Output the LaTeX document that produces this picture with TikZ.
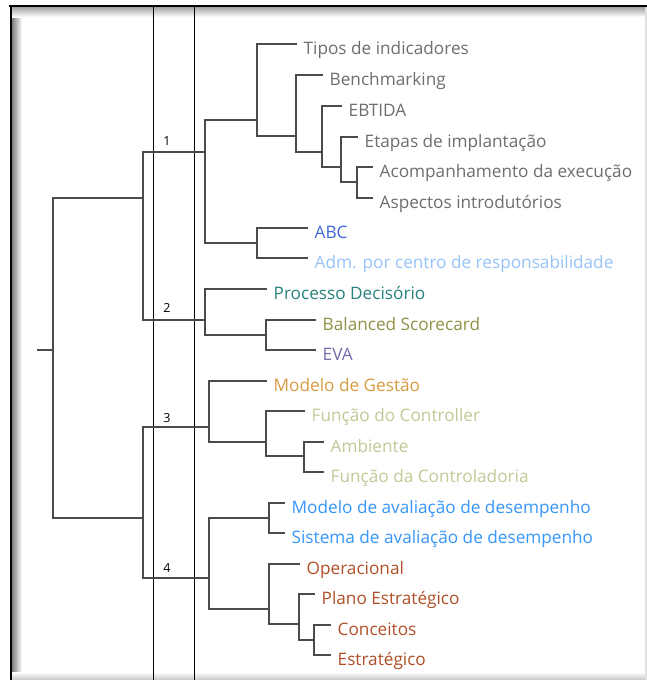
\documentclass[tikz,border=0pt]{standalone}
\usepackage{fontspec}
\setmainfont{Open Sans}
\definecolor{treegray}{RGB}{75,75,75}
\definecolor{txgray}{RGB}{110,110,110}
\definecolor{cabc}{RGB}{65,105,215}
\definecolor{cadm}{RGB}{150,195,250}
\definecolor{cproc}{RGB}{40,130,125}
\definecolor{cbal}{RGB}{145,145,70}
\definecolor{ceva}{RGB}{115,110,170}
\definecolor{cmod}{RGB}{215,155,65}
\definecolor{cpale}{RGB}{195,200,150}
\definecolor{cblue}{RGB}{55,150,250}
\definecolor{crust}{RGB}{175,80,40}
\begin{document}
\begin{tikzpicture}[x=1pt,y=-1pt,
  branch/.style={draw=treegray, line width=1.6pt, line cap=rect},
  guide/.style={draw=black, line width=0.9pt},
  leaf/.style={font=\fontsize{17.2}{19}\selectfont, inner sep=0pt, anchor=base west, xshift=7.5pt, yshift=-10.5pt},
  num/.style={font=\fontsize{12.5}{14}\selectfont, inner sep=0pt, text=black}]
\useasboundingbox (0,0) rectangle (647,680);
\fill[white] (0,0) rectangle (647,680);
% frame and shadow
\shade[left color=black!50, right color=white] (12,6) rectangle (22,680);
\shade[top color=black!40, bottom color=white] (12,6) rectangle (647,17);
\shade[top color=white, bottom color=black!22] (12,672) rectangle (647,680);
\fill[black!12] (645,6) rectangle (647,680);
\draw[black, line width=2pt] (9,6) -- (647,6);
\draw[black, line width=2pt] (11,5) -- (11,680);
% guide lines
\coordinate (g1t) at (153.5,7);
\coordinate (g1b) at (153.5,680);
\coordinate (g2t) at (194.5,7);
\coordinate (g2b) at (194.5,680);
\draw[guide] (g1t) -- (g1b);
\draw[guide] (g2t) -- (g2b);
% internal coordinates
\coordinate (rs) at (38,350);
\coordinate (r) at (53,350);
\coordinate (A) at (143,198);
\coordinate (B) at (143,518);
\coordinate (c1) at (205,152);
\coordinate (c1a) at (257,120);
\coordinate (c1a2) at (296,136);
\coordinate (c1a3) at (322,152);
\coordinate (c1a4) at (341,167);
\coordinate (c1a5) at (357,182);
\coordinate (c1b) at (257,243);
\coordinate (c2) at (205,320);
\coordinate (c2b) at (266,335);
\coordinate (c3) at (209,427);
\coordinate (c3b) at (266,442);
\coordinate (c3c) at (304,456);
\coordinate (c4) at (209,578);
\coordinate (c4a) at (269,518);
\coordinate (c4b) at (269,609);
\coordinate (c4c) at (299,624);
\coordinate (c4d) at (314,640);
% leaf ends
\coordinate (e1) at (296,44);
\coordinate (e2) at (322,75);
\coordinate (e3) at (341,106);
\coordinate (e4) at (357,137);
\coordinate (e5) at (372,167);
\coordinate (e6) at (372,198);
\coordinate (e7) at (307,228);
\coordinate (e8) at (307,258);
\coordinate (e9) at (266,289);
\coordinate (e10) at (315,320);
\coordinate (e11) at (315,350);
\coordinate (e12) at (266,381);
\coordinate (e13) at (304,411);
\coordinate (e14) at (323,442);
\coordinate (e15) at (323,472);
\coordinate (e16) at (284,503);
\coordinate (e17) at (284,533);
\coordinate (e18) at (299,564);
\coordinate (e19) at (314,594);
\coordinate (e20) at (330,625);
\coordinate (e21) at (330,655);
% branches
\draw[branch] (rs) -- (r);
\draw[branch] (r) |- (A); \draw[branch] (r) |- (B);
\draw[branch] (A) |- (c1); \draw[branch] (A) |- (c2);
\draw[branch] (c1) |- (c1a); \draw[branch] (c1) |- (c1b);
\draw[branch] (c1a) |- (e1); \draw[branch] (c1a) |- (c1a2);
\draw[branch] (c1a2) |- (e2); \draw[branch] (c1a2) |- (c1a3);
\draw[branch] (c1a3) |- (e3); \draw[branch] (c1a3) |- (c1a4);
\draw[branch] (c1a4) |- (e4); \draw[branch] (c1a4) |- (c1a5);
\draw[branch] (c1a5) |- (e5); \draw[branch] (c1a5) |- (e6);
\draw[branch] (c1b) |- (e7); \draw[branch] (c1b) |- (e8);
\draw[branch] (c2) |- (e9); \draw[branch] (c2) |- (c2b);
\draw[branch] (c2b) |- (e10); \draw[branch] (c2b) |- (e11);
\draw[branch] (B) |- (c3); \draw[branch] (B) |- (c4);
\draw[branch] (c3) |- (e12); \draw[branch] (c3) |- (c3b);
\draw[branch] (c3b) |- (e13); \draw[branch] (c3b) |- (c3c);
\draw[branch] (c3c) |- (e14); \draw[branch] (c3c) |- (e15);
\draw[branch] (c4) |- (c4a); \draw[branch] (c4) |- (c4b);
\draw[branch] (c4a) |- (e16); \draw[branch] (c4a) |- (e17);
\draw[branch] (c4b) |- (e18); \draw[branch] (c4b) |- (c4c);
\draw[branch] (c4c) |- (e19); \draw[branch] (c4c) |- (c4d);
\draw[branch] (c4d) |- (e20); \draw[branch] (c4d) |- (e21);
% cluster numbers
\node[num] (n1) at (167,141) {1};
\node[num] (n2) at (167,308) {2};
\node[num] (n3) at (167,418) {3};
\node[num] (n4) at (167,568) {4};
% leaf labels
\node[leaf, text=txgray] (t1) at (e1) {Tipos de indicadores};
\node[leaf, text=txgray] (t2) at (e2) {Benchmarking};
\node[leaf, text=txgray] (t3) at (e3) {EBTIDA};
\node[leaf, text=txgray] (t4) at (e4) {Etapas de implantação};
\node[leaf, text=txgray] (t5) at (e5) {Acompanhamento da execução};
\node[leaf, text=txgray] (t6) at (e6) {Aspectos introdutórios};
\node[leaf, text=cabc] (t7) at (e7) {ABC};
\node[leaf, text=cadm] (t8) at (e8) {Adm. por centro de responsabilidade};
\node[leaf, text=cproc] (t9) at (e9) {Processo Decisório};
\node[leaf, text=cbal] (t10) at (e10) {Balanced Scorecard};
\node[leaf, text=ceva] (t11) at (e11) {EVA};
\node[leaf, text=cmod] (t12) at (e12) {Modelo de Gestão};
\node[leaf, text=cpale] (t13) at (e13) {Função do Controller};
\node[leaf, text=cpale] (t14) at (e14) {Ambiente};
\node[leaf, text=cpale] (t15) at (e15) {Função da Controladoria};
\node[leaf, text=cblue] (t16) at (e16) {Modelo de avaliação de desempenho};
\node[leaf, text=cblue] (t17) at (e17) {Sistema de avaliação de desempenho};
\node[leaf, text=crust] (t18) at (e18) {Operacional};
\node[leaf, text=crust] (t19) at (e19) {Plano Estratégico};
\node[leaf, text=crust] (t20) at (e20) {Conceitos};
\node[leaf, text=crust] (t21) at (e21) {Estratégico};
\end{tikzpicture}
\end{document}
